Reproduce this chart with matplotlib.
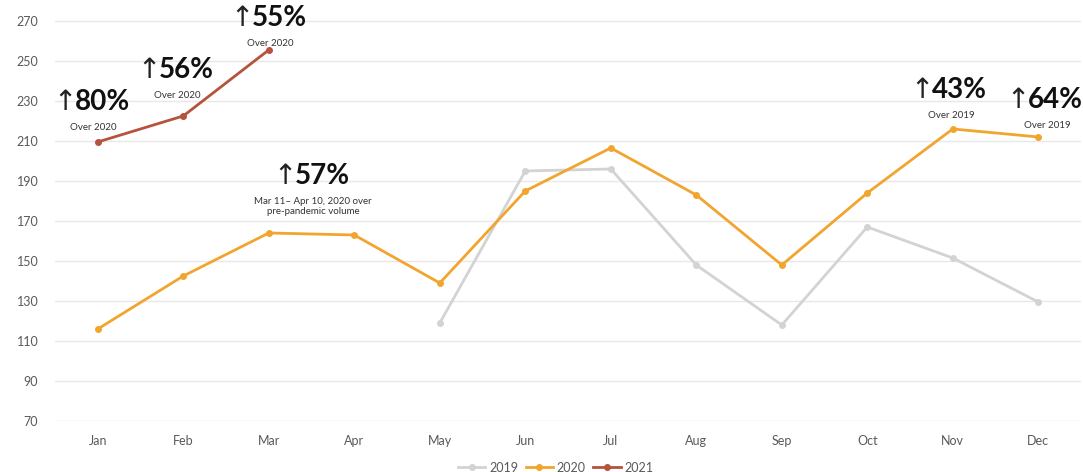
import matplotlib
matplotlib.use("Agg")
import matplotlib.pyplot as plt

months = ["Jan", "Feb", "Mar", "Apr", "May", "Jun", "Jul", "Aug", "Sep", "Oct", "Nov", "Dec"]
vol_2019 = [None, None, None, None, 119, 195, 196, 148, 118, 167, 151.5, 129.5]
vol_2020 = [116, 142.5, 164, 163, 139, 185, 206.5, 183, 148, 184, 216, 212]
vol_2021 = [209.5, 222.5, 255.5]
yticks = list(range(70, 271, 20))

# callouts: (x, y of big label, big text, small text lines)
callouts = [
    (-0.05, 229.5, "80%", "Over 2020"),
    (0.93, 245.5, "56%", "Over 2020"),
    (2.02, 271.5, "55%", "Over 2020"),
    (2.52, 192.5, "57%", "Mar 11\u2013 Apr 10, 2020 over\npre-pandemic volume"),
    (9.98, 235.5, "43%", "Over 2019"),
    (11.1, 230.5, "64%", "Over 2019"),
]

C19, C20, C21 = "#D3D3D3", "#F2A52E", "#B5533C"
GRID, TXT = "#E8E8E8", "#595959"
FAM = ["Lato", "DejaVu Sans"]

fig = plt.figure(figsize=(10.83, 4.72), dpi=100)
ax = fig.add_axes([0.0508, 0.108, 0.9474, 0.89])

x = list(range(12))
x19 = [i for i, v in enumerate(vol_2019) if v is not None]
y19 = [v for v in vol_2019 if v is not None]
ax.plot(x19, y19, color=C19, lw=2, marker="o", ms=4, label="2019")
ax.plot(x, vol_2020, color=C20, lw=2, marker="o", ms=4, label="2020")
ax.plot(range(len(vol_2021)), vol_2021, color=C21, lw=2, marker="o", ms=4, label="2021")

ax.set_xlim(-0.5, 11.5)
ax.set_ylim(70, 280)
ax.set_yticks(yticks)
ax.set_xticks(x)
ax.set_xticklabels(months)
ax.yaxis.grid(True, color=GRID, lw=1)
ax.set_axisbelow(True)
for s in ax.spines.values():
    s.set_visible(False)
ax.tick_params(length=0, colors=TXT, labelsize=9)
ax.tick_params(axis="x", pad=10)
ax.tick_params(axis="y", pad=12)
for lab in ax.get_xticklabels() + ax.get_yticklabels():
    lab.set_family(FAM)

for cx, cy, big, small in callouts:
    ax.text(cx - 0.2, cy, "\u2191", ha="right", va="center", fontsize=20,
            family="DejaVu Sans", color="#222222", clip_on=False)
    ax.text(cx - 0.22, cy, big, ha="left", va="center", fontsize=20,
            fontweight="bold", family=FAM, color="#111111", clip_on=False)
    ax.text(cx, cy - 10.5, small, ha="center", va="top", fontsize=7,
            family=FAM, color="#333333", linespacing=1.1, clip_on=False)

leg = ax.legend(loc="upper center", bbox_to_anchor=(0.488, -0.07), ncol=3,
                frameon=False, handlelength=2.2, columnspacing=0.6,
                handletextpad=0.3, prop={"family": FAM, "size": 9})
for t in leg.get_texts():
    t.set_color(TXT)

fig.savefig("out.png", dpi=100)
